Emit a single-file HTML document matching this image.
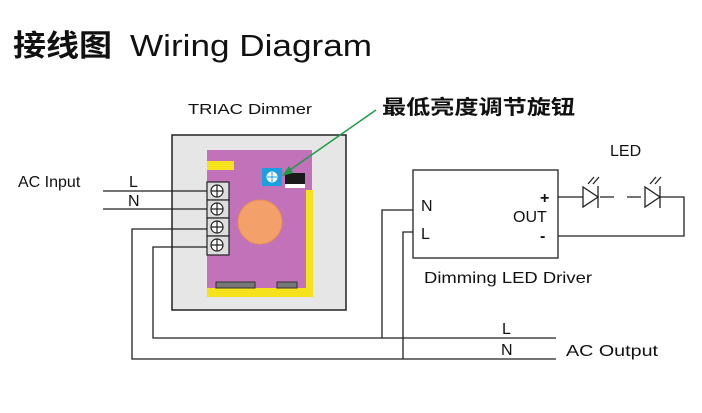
<!DOCTYPE html>
<html><head><meta charset="utf-8"><style>
html,body{margin:0;padding:0;background:#fff;}
svg{display:block;}
text{font-family:"Liberation Sans","Noto Sans CJK SC",sans-serif;fill:#111;}
</style></head><body>
<svg width="702" height="413" viewBox="0 0 702 413" xmlns="http://www.w3.org/2000/svg">
<text x="13" y="56" font-size="30" font-weight="bold" textLength="99" lengthAdjust="spacingAndGlyphs">接线图</text>
<text x="130" y="56" font-size="31" textLength="242" lengthAdjust="spacingAndGlyphs">Wiring Diagram</text>
<text x="188" y="114" font-size="15" textLength="124" lengthAdjust="spacingAndGlyphs">TRIAC Dimmer</text>
<text x="382" y="114" font-size="20" font-weight="bold" textLength="193" lengthAdjust="spacingAndGlyphs">最低亮度调节旋钮</text>

<!-- dimmer -->
<rect x="172" y="135" width="174" height="175" fill="#e6e6e6" stroke="#222" stroke-width="1.5"/>
<rect x="207" y="150" width="105" height="140" fill="#c272b8"/>
<rect x="207" y="288" width="106" height="9" fill="#f5e21c"/>
<rect x="306" y="190" width="7" height="107" fill="#f5e21c"/>
<rect x="207" y="161" width="27" height="9" fill="#f5e21c"/>
<rect x="216" y="282" width="39" height="6" fill="#777" stroke="#333"/>
<rect x="277" y="282" width="20" height="6" fill="#777" stroke="#333"/>
<circle cx="260" cy="222" r="22" fill="#f4a06a" stroke="#e8904f"/>
<rect x="262" y="168" width="20" height="18" fill="#1aa0e0"/>
<circle cx="272" cy="177" r="5.5" fill="#fff"/>
<path d="M272 172v10M267 177h10" stroke="#1aa0e0" stroke-width="1"/>
<rect x="285" y="173" width="20" height="11" fill="#1a1a1a"/>
<rect x="285" y="184" width="20" height="4" fill="#fff"/>
<g stroke="#222" stroke-width="1.2" fill="#ddd">
<rect x="207" y="182" width="22" height="18"/><rect x="207" y="200" width="22" height="18"/>
<rect x="207" y="218" width="22" height="18"/><rect x="207" y="236" width="22" height="19"/>
</g>
<g stroke="#222" stroke-width="1.2" fill="#fff">
<circle cx="217" cy="191" r="6"/><circle cx="217" cy="209" r="6"/><circle cx="217" cy="227" r="6"/><circle cx="217" cy="245" r="6"/>
</g>
<g stroke="#222" stroke-width="1.2">
<path d="M211 191h12M217 185v12M211 209h12M217 203v12M211 227h12M217 221v12M211 245h12M217 239v12"/>
</g>
<!-- green arrow -->
<line x1="376" y1="110" x2="287" y2="172" stroke="#1f9a4c" stroke-width="1.5"/>
<polygon points="282,176 293,173 289,166" fill="#1f9a4c"/>

<!-- wires -->
<g stroke="#222" stroke-width="1.3" fill="none">
<path d="M103 191H207M103 209H207"/>
<path d="M207 229H132V359H556"/>
<path d="M207 247H153V338H556"/>
<path d="M413 210H382V338"/>
<path d="M413 232H403V359"/>
<rect x="413" y="170" width="145" height="88"/>
<path d="M558 197H583M600 197H614M627 197H641M660 197H684V236H558"/>
</g>
<!-- LEDs -->
<g stroke="#222" stroke-width="1.3" fill="#fff">
<polygon points="583,187 583,207 598,197"/>
<line x1="598" y1="186" x2="598" y2="208"/>
<polygon points="645,187 645,207 660,197"/>
<line x1="660" y1="186" x2="660" y2="208"/>
<path d="M588 184l6-7M593 184l6-7M650 184l6-7M655 184l6-7" fill="none"/>
</g>
<text x="18" y="187" font-size="16">AC Input</text>
<text x="129" y="187" font-size="16">L</text>
<text x="128" y="206" font-size="16">N</text>
<text x="421" y="211" font-size="16">N</text>
<text x="421" y="239" font-size="16">L</text>
<text x="540" y="203" font-size="16" font-weight="bold">+</text>
<text x="513" y="222" font-size="16">OUT</text>
<text x="540" y="241" font-size="16" font-weight="bold">-</text>
<text x="610" y="156" font-size="16">LED</text>
<text x="424" y="283" font-size="16" textLength="168" lengthAdjust="spacingAndGlyphs">Dimming LED Driver</text>
<text x="502" y="334" font-size="16">L</text>
<text x="501" y="355" font-size="16">N</text>
<text x="566" y="356" font-size="16" textLength="92" lengthAdjust="spacingAndGlyphs">AC Output</text>
</svg>
</body></html>
